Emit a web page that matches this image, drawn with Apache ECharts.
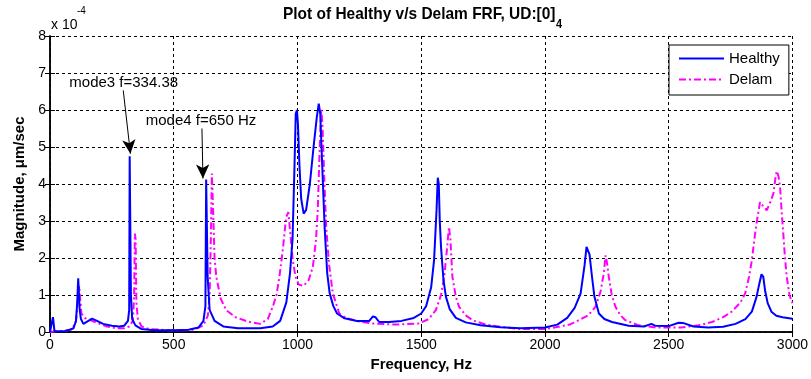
<!DOCTYPE html>
<html>
<head>
<meta charset="utf-8">
<script src="https://cdn.jsdelivr.net/npm/echarts@6/dist/echarts.min.js"></script>
<style>html,body{margin:0;padding:0;background:#fff}#c{width:811px;height:379px}</style>
</head>
<body>
<div id="c"></div>
<script>
// Magnitudes are in units of 1e-4 um/sec (axis shows "x 10^-4")
var healthyFreq = [0,8,12,15,18,40,60,80,95,105,110,114,117,120,125,135,150,170,190,215,250,280,300,315,320,322,325,327,332,345,370,420,500,560,600,620,628,631,634,637,645,665,700,760,850,900,930,955,970,980,988,993,998,1002,1008,1015,1025,1035,1050,1065,1078,1086,1092,1100,1110,1120,1130,1145,1160,1190,1240,1290,1305,1315,1330,1370,1420,1470,1500,1520,1540,1552,1562,1567,1571,1575,1580,1590,1600,1615,1640,1680,1740,1820,1900,2000,2050,2090,2120,2144,2160,2168,2174,2180,2190,2200,2218,2240,2271,2338,2400,2430,2445,2500,2540,2560,2600,2660,2720,2770,2810,2836,2855,2866,2875,2882,2890,2900,2915,2935,2960,3000];
var healthyMag  = [0,0.02,0.4,0.4,0.03,0.02,0.03,0.06,0.1,0.3,0.8,1.45,1.4,0.6,0.35,0.22,0.28,0.36,0.3,0.22,0.17,0.15,0.17,0.3,0.6,4.75,4.75,1.0,0.35,0.18,0.08,0.05,0.05,0.06,0.12,0.3,0.7,4.12,4.12,1.5,0.6,0.3,0.15,0.1,0.1,0.15,0.3,0.8,1.6,2.5,4.5,5.9,6.0,5.6,4.5,3.6,3.2,3.3,4.0,5.0,5.8,6.17,5.9,4.5,2.8,1.6,1.05,0.7,0.5,0.37,0.3,0.3,0.42,0.4,0.27,0.27,0.3,0.38,0.5,0.7,1.2,1.94,3.3,4.17,4.0,3.0,2.3,1.4,0.95,0.62,0.38,0.26,0.18,0.13,0.1,0.12,0.2,0.38,0.65,1.04,1.8,2.3,2.3,2.1,1.5,0.95,0.5,0.35,0.27,0.17,0.15,0.22,0.17,0.16,0.25,0.24,0.15,0.12,0.14,0.22,0.35,0.55,0.95,1.3,1.56,1.5,1.1,0.78,0.55,0.44,0.4,0.36];
var delamFreq = [0,20,60,90,105,112,118,122,127,140,160,190,230,270,300,320,335,340,343,346,349,355,370,400,500,580,620,638,645,650,654,658,665,672,690,712,750,800,850,880,900,915,927,942,954,963,972,981,992,1005,1025,1045,1062,1075,1082,1090,1096,1101,1108,1116,1128,1143,1169,1196,1250,1304,1400,1492,1530,1559,1580,1593,1605,1612,1618,1626,1640,1653,1680,1707,1760,1820,1900,2000,2060,2100,2137,2175,2204,2225,2238,2245,2250,2258,2270,2285,2305,2325,2378,2450,2550,2620,2675,2720,2755,2790,2809,2825,2836,2848,2857,2869,2882,2896,2910,2923,2932,2937,2944,2950,2957,2964,2970,2977,2988,3000];
var delamMag  = [0,0.02,0.03,0.08,0.3,0.8,1.25,0.9,0.5,0.38,0.33,0.25,0.15,0.1,0.1,0.15,0.3,1.0,2.66,2.5,0.8,0.35,0.15,0.08,0.04,0.06,0.18,0.45,1.0,2.5,4.28,3.5,2.0,1.49,0.9,0.59,0.4,0.28,0.22,0.35,0.68,1.0,1.49,2.3,3.1,3.24,2.6,1.94,1.5,1.28,1.25,1.4,1.76,2.5,3.3,5.0,6.04,5.6,4.2,2.84,1.8,1.04,0.5,0.38,0.28,0.23,0.2,0.23,0.35,0.59,1.0,1.49,2.3,2.84,2.5,1.49,0.95,0.68,0.45,0.32,0.2,0.14,0.08,0.08,0.15,0.2,0.32,0.45,0.68,1.1,1.6,2.07,1.9,1.49,1.0,0.68,0.45,0.32,0.18,0.12,0.12,0.18,0.27,0.4,0.55,0.8,1.04,1.5,1.94,2.6,3.02,3.51,3.4,3.29,3.5,3.74,4.2,4.35,4.2,3.92,3.2,2.57,2.0,1.49,1.0,0.78];
var xTicks = [0,500,1000,1500,2000,2500,3000];
var yTicks = [0,1,2,3,4,5,6,7,8];
var seriesNames = ['Healthy','Delam'];
var titleMain = 'Plot of Healthy v/s Delam FRF, UD:[0]';
var titleSub = '4';
var annotations = [
  {text:'mode3 f=334.38', textAt:[78,6.73], from:[296,6.53], to:[325,4.82]},
  {text:'mode4 f=650 Hz', textAt:[387,5.72], from:[614,5.5], to:[618,4.15]}
];

function pairs(f,m){return f.map(function(x,i){return [x,m[i]];});}

var FONT = 'Liberation Sans, Arial, sans-serif';
var chart = echarts.init(document.getElementById('c'));
var axisLine = {show:true, lineStyle:{color:'#000', width:1.5}};
var tick = {show:true, inside:true, length:5, lineStyle:{color:'#000', width:1}};
var split = {show:true, lineStyle:{color:'#000', width:1, type:[3,3]}};

chart.setOption({
  animation:false,
  backgroundColor:'#fff',
  legend:{
    data:seriesNames,
    orient:'vertical', left:669, top:45,
    itemWidth:45, itemHeight:14, itemGap:6,
    padding:[6,9,8,9],
    borderColor:'#000', borderWidth:1, backgroundColor:'#fff',
    itemStyle:{opacity:0},
    textStyle:{fontFamily:FONT, fontSize:15, color:'#000', lineHeight:14}
  },
  grid:{left:50, right:16, top:36, bottom:47, show:false},
  xAxis:[
    {type:'value', min:xTicks[0], max:xTicks[xTicks.length-1], interval:500,
     name:'Frequency, Hz', nameLocation:'middle', nameGap:25,
     nameTextStyle:{fontFamily:FONT, fontWeight:'bold', fontSize:15, color:'#000'},
     axisLine:axisLine, axisTick:tick, splitLine:split,
     axisLabel:{fontFamily:FONT, fontSize:14, color:'#000', margin:6, formatter:function(v){return String(v);}}},
    {type:'value', position:'top', min:xTicks[0], max:xTicks[xTicks.length-1], interval:500,
     axisLine:axisLine, axisTick:tick, splitLine:{show:false}, axisLabel:{show:false}}
  ],
  yAxis:[
    {type:'value', min:yTicks[0], max:yTicks[yTicks.length-1], interval:1,
     name:'Magnitude, \u03bcm/sec', nameLocation:'middle', nameGap:19,
     nameTextStyle:{fontFamily:FONT, fontWeight:'bold', fontSize:15, color:'#000'},
     axisLine:axisLine, axisTick:tick, splitLine:split,
     axisLabel:{fontFamily:FONT, fontSize:14, color:'#000', margin:4}},
    {type:'value', position:'right', min:yTicks[0], max:yTicks[yTicks.length-1], interval:1,
     axisLine:axisLine, axisTick:tick, splitLine:{show:false}, axisLabel:{show:false}}
  ],
  series:[
    {name:seriesNames[0], type:'line', data:pairs(healthyFreq,healthyMag), showSymbol:false, symbol:'none', z:3,
     lineStyle:{color:'#0000ff', width:2}, itemStyle:{color:'#0000ff'},
     markLine:{silent:true, symbol:['none','arrow'], symbolSize:[10,14], label:{show:false},
       lineStyle:{color:'#000', width:1, type:'solid'},
       data:annotations.map(function(a){return [{coord:a.from},{coord:a.to}];})}},
    {name:seriesNames[1], type:'line', data:pairs(delamFreq,delamMag), showSymbol:false, symbol:'none', z:2,
     lineStyle:{color:'#ff00ff', width:2, type:[7,3,2,3]}, itemStyle:{color:'#ff00ff'}}
  ]
});

// title (condensed bold, with subscript)
var TITLE_SCALE = 0.91, TITLE_SIZE = 17;
var ctx = document.createElement('canvas').getContext('2d');
ctx.font = 'bold ' + TITLE_SIZE + 'px ' + FONT;
var titleW = ctx.measureText(titleMain).width * TITLE_SCALE;
var titleX = 283;

var g = [
  {type:'text', x:titleX, y:14, scaleX:TITLE_SCALE,
   style:{text:titleMain, fontFamily:FONT, fontWeight:'bold', fontSize:TITLE_SIZE, fill:'#000', verticalAlign:'middle', align:'left'}},
  {type:'text', x:titleX + titleW + 0.5, y:25, scaleX:TITLE_SCALE,
   style:{text:titleSub, fontFamily:FONT, fontWeight:'bold', fontSize:12, fill:'#000', verticalAlign:'middle', align:'left'}},
  {type:'text', x:51, y:25,
   style:{text:'x 10', fontFamily:FONT, fontSize:14, fill:'#000', verticalAlign:'middle', align:'left'}},
  {type:'text', x:77, y:11,
   style:{text:'-4', fontFamily:FONT, fontSize:10, fill:'#000', verticalAlign:'middle', align:'left'}}
];
annotations.forEach(function(a){
  var p = chart.convertToPixel({gridIndex:0}, a.textAt);
  g.push({type:'text', x:p[0], y:p[1], style:{text:a.text, fontFamily:FONT, fontSize:15, fill:'#000', verticalAlign:'middle', align:'left'}});
});
chart.setOption({graphic:g});
</script>
</body>
</html>
